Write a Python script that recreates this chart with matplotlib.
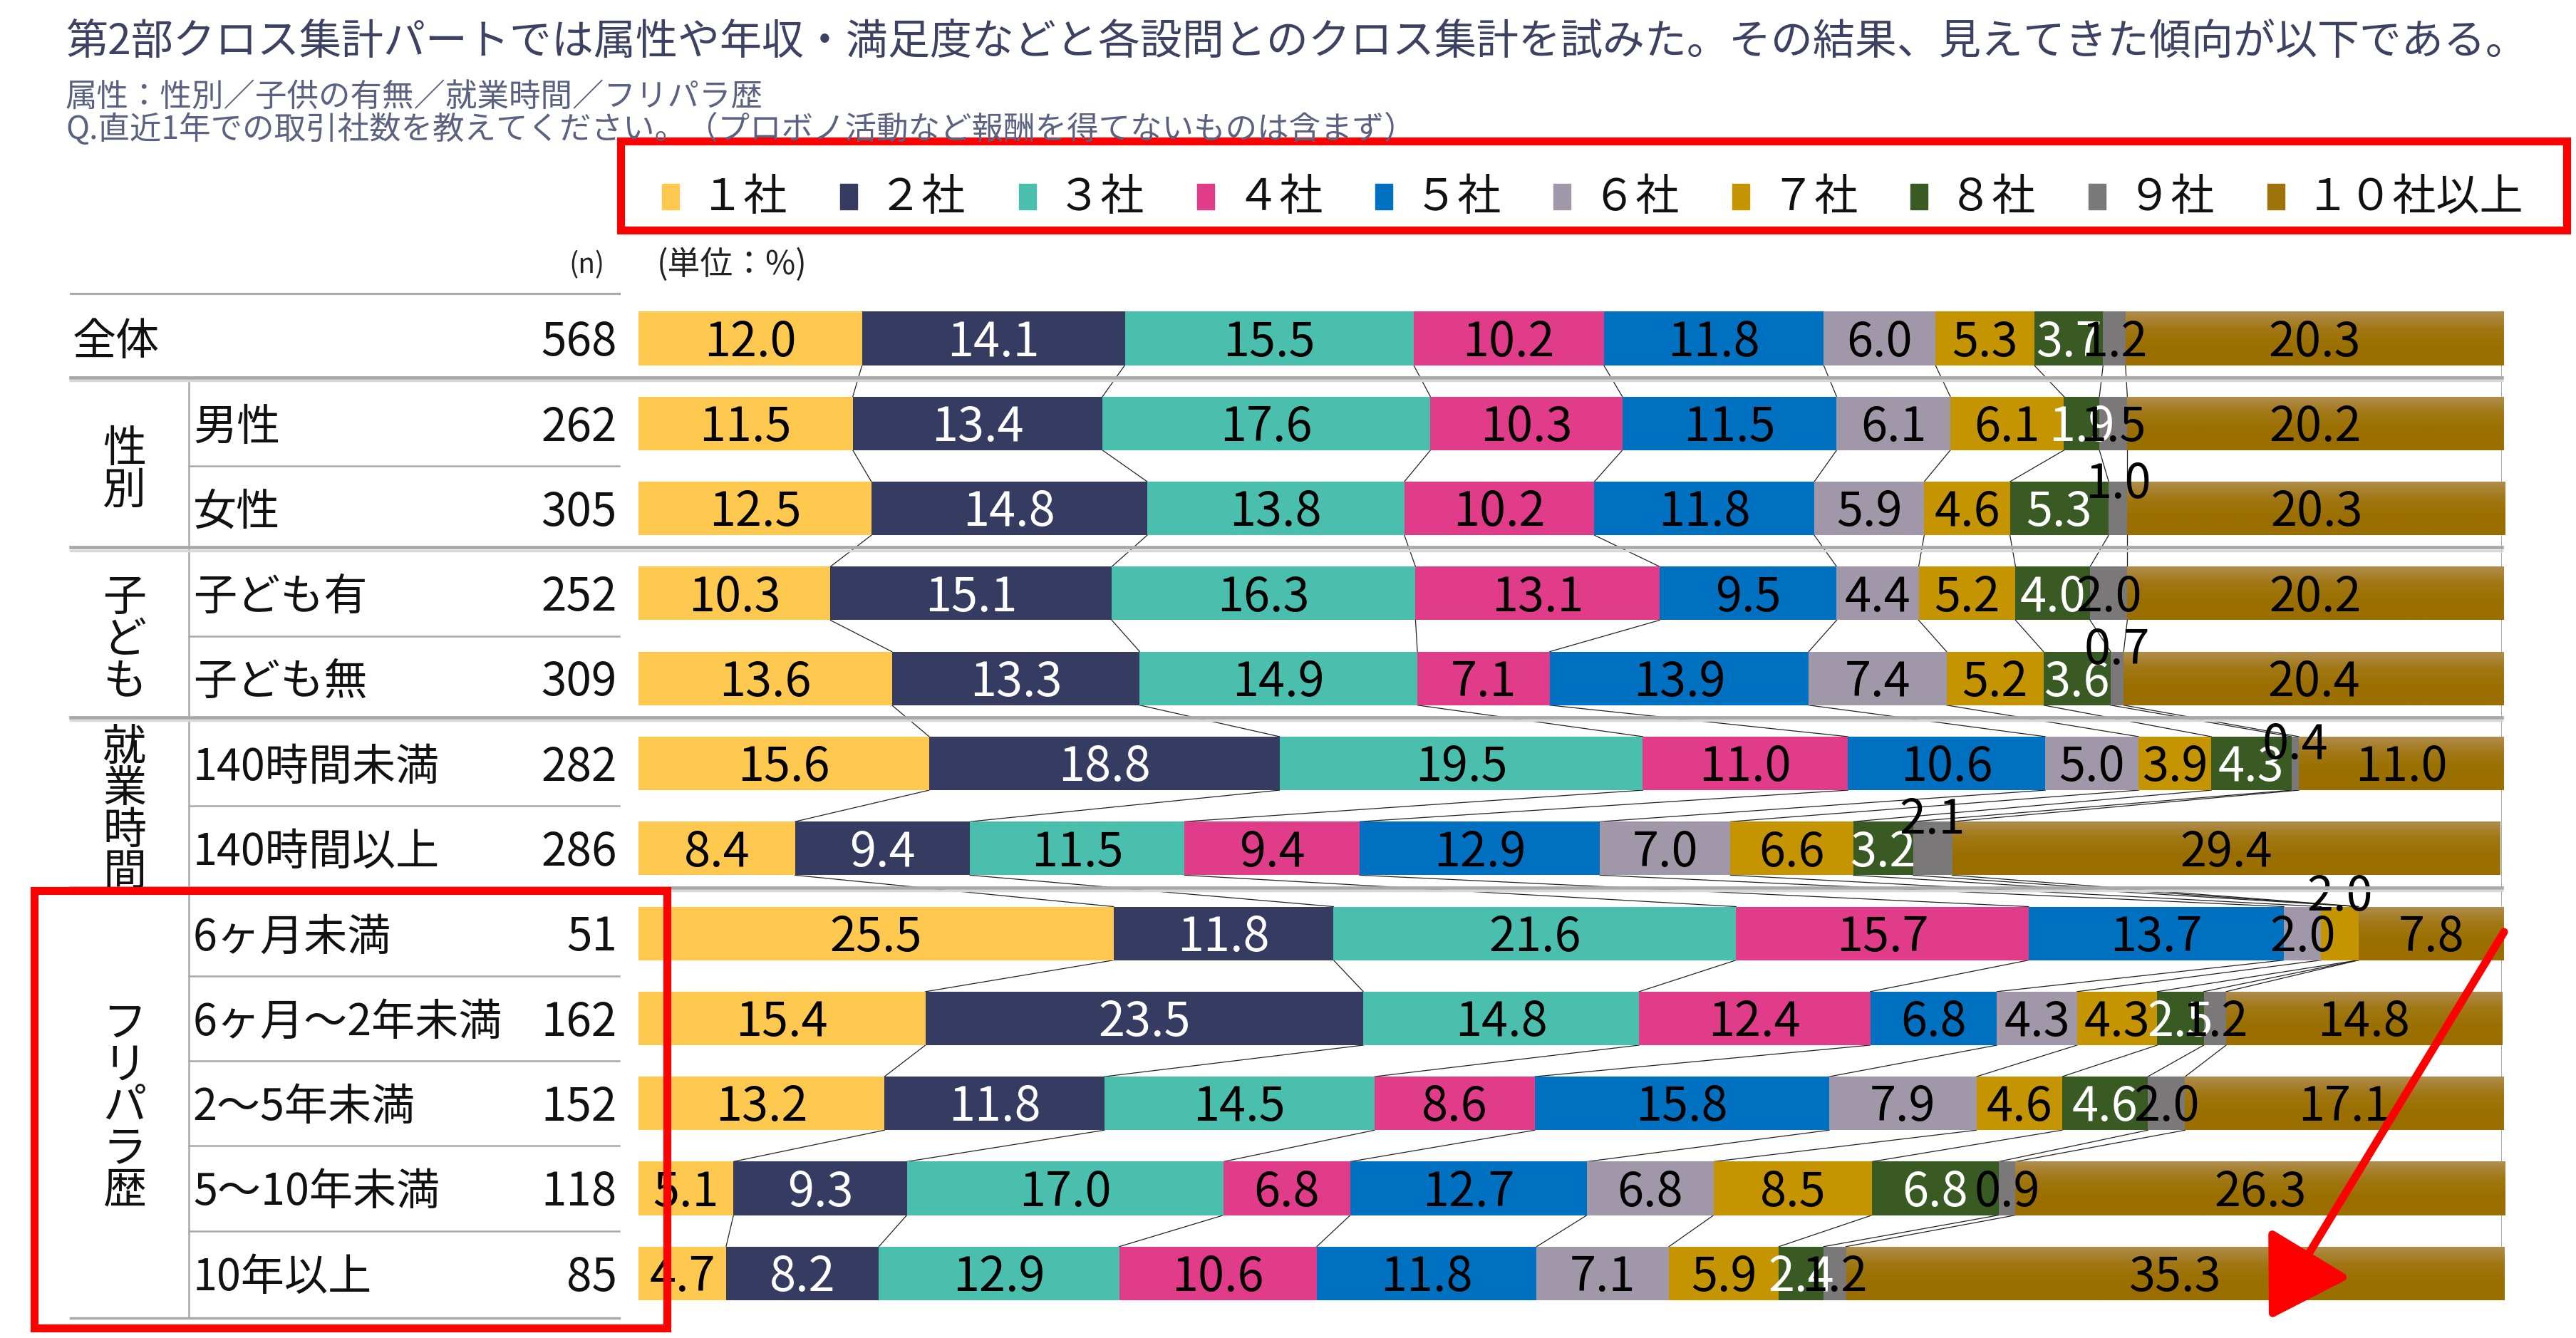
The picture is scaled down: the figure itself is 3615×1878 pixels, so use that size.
import matplotlib
matplotlib.use('Agg')
import matplotlib.pyplot as plt
from matplotlib.patches import Rectangle
from matplotlib.colors import LinearSegmentedColormap
import numpy as np

plt.rcParams['font.family'] = ['Noto Sans CJK JP', 'DejaVu Sans']

W, H = 3616, 1878

# ---- data ----
categories = ['１社', '２社', '３社', '４社', '５社', '６社', '７社', '８社', '９社', '１０社以上']
row_labels = ['全体', '男性', '女性', '子ども有', '子ども無', '140時間未満', '140時間以上',
              '6ヶ月未満', '6ヶ月～2年未満', '2～5年未満', '5～10年未満', '10年以上']
n_values = [568, 262, 305, 252, 309, 282, 286, 51, 162, 152, 118, 85]

s1 = [12.0, 11.5, 12.5, 10.3, 13.6, 15.6, 8.4, 25.5, 15.4, 13.2, 5.1, 4.7]
s2 = [14.1, 13.4, 14.8, 15.1, 13.3, 18.8, 9.4, 11.8, 23.5, 11.8, 9.3, 8.2]
s3 = [15.5, 17.6, 13.8, 16.3, 14.9, 19.5, 11.5, 21.6, 14.8, 14.5, 17.0, 12.9]
s4 = [10.2, 10.3, 10.2, 13.1, 7.1, 11.0, 9.4, 15.7, 12.4, 8.6, 6.8, 10.6]
s5 = [11.8, 11.5, 11.8, 9.5, 13.9, 10.6, 12.9, 13.7, 6.8, 15.8, 12.7, 11.8]
s6 = [6.0, 6.1, 5.9, 4.4, 7.4, 5.0, 7.0, 2.0, 4.3, 7.9, 6.8, 7.1]
s7 = [5.3, 6.1, 4.6, 5.2, 5.2, 3.9, 6.6, 2.0, 4.3, 4.6, 8.5, 5.9]
s8 = [3.7, 1.9, 5.3, 4.0, 3.6, 4.3, 3.2, 0.0, 2.5, 4.6, 6.8, 2.4]
s9 = [1.2, 1.5, 1.0, 2.0, 0.7, 0.4, 2.1, 0.0, 1.2, 2.0, 0.9, 1.2]
s10 = [20.3, 20.2, 20.3, 20.2, 20.4, 11.0, 29.4, 7.8, 14.8, 17.1, 26.3, 35.3]
series = [s1, s2, s3, s4, s5, s6, s7, s8, s9, s10]

groups = [('', [0]), ('性別', [1, 2]), ('子ども', [3, 4]),
          ('就業時間', [5, 6]), ('フリパラ歴', [7, 8, 9, 10, 11])]

colors = ['#FFC84E', '#363B62', '#4BBFAD', '#E03C8A', '#0070C0',
          '#A097A8', '#C49500', '#3A5A24', '#7A7878', '#9C7209']
white_text = {1, 7}
# labels Excel pushed above the bar (row, series) -> vertical shift in rows
moved = {(2, 8): -0.33, (4, 8): -0.38, (5, 8): -0.26, (6, 8): -0.38, (7, 6): -0.48}

# ---- layout ----
Y0, DY = 475, 119.3          # px centre of first row, row pitch
YTOP, YBOT = -1.0, 11.7
X0, XW = 896, 2615           # px of 0% and width of 100%
bh = 0.63
tdy = 0.05                   # text baseline nudge

fig = plt.figure(figsize=(W / 100, H / 100), dpi=100)
fig.patch.set_facecolor('white')
ab = 1 - (Y0 + YBOT * DY) / H
ah = (YBOT - YTOP) * DY / H

ax = fig.add_axes([X0 / W, ab, XW / W, ah])
ax.set_xlim(0, 100)
ax.set_ylim(YBOT, YTOP)
ax.axis('off')

tb = fig.add_axes([0, ab, X0 / W, ah])
tb.set_xlim(0, X0)
tb.set_ylim(YBOT, YTOP)
tb.axis('off')

rows = np.arange(len(row_labels))
left = np.zeros(len(rows))
bars10 = None
for k, vals in enumerate(series):
    vals = np.array(vals)
    b = ax.barh(rows, vals, left=left, height=bh, color=colors[k], zorder=2)
    for r in rows:
        v = vals[r]
        if v <= 0:
            continue
        dy = moved.get((r, k), 0)
        ax.text(left[r] + v / 2, r + dy + tdy, f'{v:.1f}', ha='center', va='center',
                fontsize=48, color='white' if (k in white_text and dy == 0) else 'black',
                zorder=5)
    if k == len(series) - 1:
        bars10 = b
    left = left + vals

# gradient on the 10+ segment
gcmap = LinearSegmentedColormap.from_list('g', ['#B08D4E', '#A07712', '#9A6F00', '#9A6F00'])
grad = np.linspace(0, 1, 64).reshape(-1, 1)
for p in bars10.patches:
    x0, y0 = p.get_x(), p.get_y()
    im = ax.imshow(grad, extent=(x0, x0 + p.get_width(), y0 + p.get_height(), y0),
                   origin='upper', aspect='auto', cmap=gcmap, zorder=2.5)
    im.set_clip_path(p)
ax.set_xlim(0, 100)
ax.set_ylim(YBOT, YTOP)

# series lines between neighbouring bars
cums = np.cumsum(np.array(series), axis=0)
for r in range(len(rows) - 1):
    for k in range(len(series) - 1):
        ax.plot([cums[k][r], cums[k][r + 1]], [r + bh / 2, r + 1 - bh / 2],
                color='#222222', lw=0.9, zorder=1)
ax.plot([100, 100], [-bh / 2, 11 - bh / 2], color='#999999', lw=1.2, zorder=1)

# ---- table ----
line_c = '#A8A8A8'
tb.plot([99, 869], [-0.53, -0.53], color=line_c, lw=2.2)
tb.plot([99, 869], [11.525, 11.525], color=line_c, lw=2.5)
for gname, members in groups[1:]:
    ysep = members[0] - 0.5 - 0.04
    tb.plot([99, 3511], [ysep, ysep], color='#A8A8A8', lw=3.4, clip_on=False, zorder=3)
    tb.plot([99, 3511], [ysep + 0.035, ysep + 0.035], color='#D8D8D8', lw=2.5,
            clip_on=False, zorder=3)
    for m in members[:-1]:
        tb.plot([265, 869], [m + 0.5, m + 0.5], color=line_c, lw=1.8)
tb.plot([265, 265], [0.46, 11.525], color=line_c, lw=1.8)

for r in rows:
    xl = 102 if r == 0 else 271
    tb.text(xl, r + tdy, row_labels[r], ha='left', va='center', fontsize=44, color='#111111')
    tb.text(866, r + tdy, str(n_values[r]), ha='right', va='center', fontsize=46,
            color='#111111')

for gname, members in groups[1:]:
    gc = (members[0] + members[-1]) / 2
    n = len(gname)
    step = 0.49
    for j, ch in enumerate(gname):
        tb.text(175, gc + (j - (n - 1) / 2) * step + tdy, ch, ha='center', va='center',
                fontsize=44, color='#111111')

# ---- overlay: title, legend, annotations ----
ov = fig.add_axes([0, 0, 1, 1], zorder=10)
ov.set_xlim(0, W)
ov.set_ylim(H, 0)
ov.axis('off')
ov.patch.set_alpha(0)

ov.text(92, 60, '第2部クロス集計パートでは属性や年収・満足度などと各設問とのクロス集計を試みた。その結果、見えてきた傾向が以下である。',
        ha='left', va='center', fontsize=42.5, color='#3D4263')
ov.text(92, 136, '属性：性別／子供の有無／就業時間／フリパラ歴',
        ha='left', va='center', fontsize=32, color='#5B6180')
ov.text(92, 182, 'Q.直近1年での取引社数を教えてください。（プロボノ活動など報酬を得てないものは含まず）',
        ha='left', va='center', fontsize=32, color='#5B6180')

ov.text(823, 372, '(n)', ha='center', va='center', fontsize=28, color='#222222')
ov.text(922, 372, '(単位：%)', ha='left', va='center', fontsize=33, color='#222222')

for k, lab in enumerate(categories):
    xc = 941 + k * 250.3
    ov.add_patch(Rectangle((xc - 12, 276 - 18), 24, 36, color=colors[k]))
    ov.text(xc + 42, 278, lab, ha='left', va='center', fontsize=44, color='#111111')

ov.add_patch(Rectangle((871, 198), 3602 - 871, 323 - 198, fill=False, ec='#FF0000', lw=8))
ov.add_patch(Rectangle((48, 1250), 936 - 48, 1864 - 1250, fill=False, ec='#FF0000', lw=8))
ov.annotate('', xy=(3184, 1852), xytext=(3514, 1308),
            arrowprops=dict(arrowstyle='-|>,head_length=2.6,head_width=1.6',
                            color='#FF0000', lw=8, mutation_scale=26, shrinkA=0, shrinkB=0))

fig.savefig('out.png', dpi=100, facecolor='white')
